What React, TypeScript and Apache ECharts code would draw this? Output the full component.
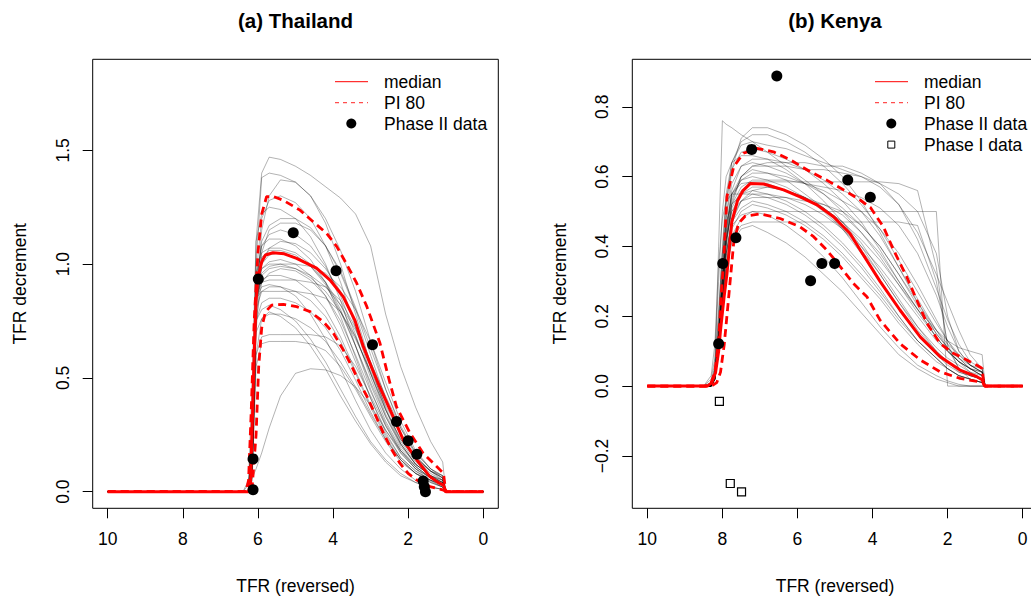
import React, { useEffect, useRef } from "react";
import * as echarts from "echarts";

// ---------- Axis ticks ----------
const xTicks = [0, 2, 4, 6, 8, 10];
const thaiYTicks = [0, 0.5, 1, 1.5];
const kenyaYTicks = [-0.2, 0, 0.2, 0.4, 0.6, 0.8];

// ---------- Thailand ----------
const thaiGrid = [10, 6.4, 6.25, 6.15, 6.05, 5.9, 5.7, 5.4, 5.0, 4.6, 4.2, 3.8, 3.4, 3.0, 2.6, 2.2, 1.8, 1.4, 1.08, 1.0, 0];
const thaiTrajectories = [
  [0, 0, 0, 0.3, 1.1, 1.4, 1.47, 1.46, 1.43, 1.39, 1.34, 1.29, 1.22, 1.08, 0.78, 0.55, 0.37, 0.22, 0.13, 0, 0],
  [0, 0, 0, 0.1, 1.0, 1.38, 1.4, 1.39, 1.36, 1.3, 1.2, 1.06, 0.88, 0.66, 0.45, 0.28, 0.16, 0.09, 0.05, 0, 0],
  [0, 0, 0, 0.15, 0.8, 1.15, 1.3, 1.37, 1.36, 1.3, 1.18, 1.0, 0.78, 0.56, 0.37, 0.22, 0.13, 0.07, 0.04, 0, 0],
  [0, 0, 0, 0.2, 0.95, 1.2, 1.28, 1.3, 1.27, 1.2, 1.08, 0.92, 0.72, 0.52, 0.34, 0.21, 0.12, 0.07, 0.05, 0, 0],
  [0, 0, 0.05, 0.5, 1.1, 1.22, 1.25, 1.24, 1.2, 1.12, 1.0, 0.84, 0.64, 0.45, 0.29, 0.17, 0.1, 0.06, 0.03, 0, 0],
  [0, 0, 0, 0.3, 0.9, 1.1, 1.17, 1.2, 1.2, 1.16, 1.08, 0.96, 0.8, 0.6, 0.41, 0.26, 0.15, 0.09, 0.06, 0, 0],
  [0, 0, 0, 0.2, 0.9, 1.08, 1.13, 1.15, 1.13, 1.08, 0.99, 0.86, 0.69, 0.5, 0.33, 0.2, 0.12, 0.07, 0.04, 0, 0],
  [0, 0, 0, 0.25, 0.95, 1.08, 1.11, 1.11, 1.08, 1.02, 0.92, 0.77, 0.59, 0.41, 0.26, 0.15, 0.09, 0.05, 0.03, 0, 0],
  [0, 0, 0, 0.15, 0.8, 1.0, 1.07, 1.1, 1.09, 1.05, 0.98, 0.88, 0.74, 0.57, 0.4, 0.25, 0.15, 0.09, 0.06, 0, 0],
  [0, 0, 0, 0.3, 0.95, 1.05, 1.07, 1.07, 1.05, 1.0, 0.92, 0.8, 0.64, 0.47, 0.31, 0.19, 0.11, 0.06, 0.03, 0, 0],
  [0, 0, 0, 0.2, 0.88, 1.0, 1.04, 1.05, 1.03, 0.99, 0.92, 0.82, 0.68, 0.52, 0.36, 0.23, 0.14, 0.08, 0.05, 0, 0],
  [0, 0, 0, 0.2, 0.85, 0.98, 1.01, 1.02, 1.0, 0.95, 0.86, 0.73, 0.57, 0.41, 0.27, 0.17, 0.1, 0.06, 0.04, 0, 0],
  [0, 0, 0, 0.3, 0.9, 0.98, 1.0, 1.0, 0.98, 0.94, 0.88, 0.79, 0.67, 0.53, 0.38, 0.25, 0.15, 0.09, 0.06, 0, 0],
  [0, 0, 0, 0.1, 0.75, 0.92, 0.96, 0.98, 0.97, 0.93, 0.86, 0.75, 0.6, 0.44, 0.3, 0.18, 0.11, 0.06, 0.03, 0, 0],
  [0, 0, 0, 0.25, 0.85, 0.93, 0.95, 0.95, 0.93, 0.88, 0.8, 0.68, 0.53, 0.38, 0.25, 0.15, 0.09, 0.05, 0.02, 0, 0],
  [0, 0, 0, 0.2, 0.85, 0.92, 0.93, 0.93, 0.93, 0.92, 0.9, 0.84, 0.72, 0.55, 0.36, 0.21, 0.12, 0.07, 0.05, 0, 0],
  [0, 0, 0, 0.2, 0.8, 0.88, 0.9, 0.9, 0.88, 0.84, 0.77, 0.66, 0.52, 0.37, 0.24, 0.14, 0.08, 0.04, 0.02, 0, 0],
  [0, 0, 0, 0.3, 0.85, 0.88, 0.88, 0.88, 0.88, 0.87, 0.85, 0.79, 0.68, 0.52, 0.36, 0.23, 0.14, 0.09, 0.07, 0, 0],
  [0, 0, 0, 0.15, 0.75, 0.83, 0.85, 0.85, 0.83, 0.79, 0.72, 0.62, 0.49, 0.35, 0.23, 0.14, 0.08, 0.05, 0.03, 0, 0],
  [0, 0, 0, 0.2, 0.75, 0.8, 0.82, 0.8, 0.75, 0.67, 0.57, 0.45, 0.33, 0.22, 0.14, 0.08, 0.04, 0.02, 0.01, 0, 0],
  [0, 0, 0, 0.15, 0.7, 0.76, 0.78, 0.78, 0.76, 0.72, 0.66, 0.57, 0.46, 0.34, 0.23, 0.14, 0.08, 0.05, 0.03, 0, 0],
  [0, 0, 0, 0.1, 0.6, 0.68, 0.69, 0.69, 0.69, 0.69, 0.68, 0.64, 0.55, 0.42, 0.29, 0.18, 0.11, 0.06, 0.04, 0, 0],
  [0, 0, 0, 0.1, 0.55, 0.65, 0.66, 0.66, 0.66, 0.65, 0.62, 0.55, 0.45, 0.33, 0.22, 0.13, 0.08, 0.04, 0.02, 0, 0],
  [0, 0, 0, 0.1, 0.6, 0.76, 0.79, 0.77, 0.72, 0.64, 0.54, 0.42, 0.31, 0.21, 0.13, 0.07, 0.04, 0.02, 0.01, 0, 0],
  [0, 0, 0.03, 0.06, 0.1, 0.17, 0.28, 0.42, 0.52, 0.54, 0.535, 0.51, 0.46, 0.38, 0.27, 0.18, 0.1, 0.045, 0.02, 0, 0],
  [0, 0, 0, 0.05, 0.7, 1.05, 1.15, 1.18, 1.18, 1.15, 1.08, 0.97, 0.81, 0.63, 0.45, 0.29, 0.17, 0.1, 0.06, 0, 0],
  [0, 0, 0, 0.2, 0.85, 0.96, 0.99, 1.0, 1.0, 0.99, 0.96, 0.9, 0.8, 0.66, 0.48, 0.31, 0.18, 0.1, 0.07, 0, 0],
  [0, 0, 0, 0.3, 0.85, 0.9, 0.91, 0.9, 0.86, 0.78, 0.67, 0.54, 0.4, 0.27, 0.17, 0.1, 0.05, 0.02, 0.01, 0, 0],
  [0, 0, 0, 0.25, 0.9, 1.03, 1.06, 1.06, 1.04, 0.99, 0.91, 0.79, 0.64, 0.48, 0.33, 0.21, 0.12, 0.07, 0.04, 0, 0],
  [0, 0, 0, 0.2, 0.85, 0.95, 0.98, 0.99, 0.98, 0.95, 0.9, 0.82, 0.71, 0.57, 0.42, 0.28, 0.17, 0.1, 0.07, 0, 0],
];
const thaiMedian = [
  [10, 0], [6.25, 0], [6.2, 0.03], [6.15, 0.3], [6.1, 0.6], [6.05, 0.84], [6.0, 0.94], [5.9, 1.01], [5.8, 1.04],
  [5.6, 1.05], [5.3, 1.045], [4.97, 1.025], [4.44, 0.982], [4.08, 0.93], [3.73, 0.857], [3.42, 0.754], [3.2, 0.64],
  [2.96, 0.54], [2.76, 0.461], [2.4, 0.33], [2.13, 0.227], [1.77, 0.139], [1.42, 0.066], [1.2, 0.04], [1.06, 0.029],
  [1.0, 0], [0, 0],
];
const thaiUpper = [
  [10, 0], [6.32, 0], [6.25, 0.05], [6.18, 0.35], [6.1, 0.75], [6.0, 1.05], [5.9, 1.22], [5.77, 1.296], [5.6, 1.298],
  [5.32, 1.28], [4.88, 1.237], [4.53, 1.186], [4.17, 1.135], [3.9, 1.077], [3.64, 1.0], [3.37, 0.916], [3.1, 0.813],
  [2.93, 0.735], [2.75, 0.652], [2.53, 0.505], [2.31, 0.373], [1.95, 0.257], [1.6, 0.169], [1.24, 0.11], [1.06, 0.081],
  [1.0, 0], [0, 0],
];
const thaiLower = [
  [10, 0], [6.25, 0], [6.15, 0.03], [6.05, 0.25], [5.98, 0.55], [5.9, 0.72], [5.8, 0.79], [5.63, 0.82], [5.32, 0.823],
  [4.97, 0.813], [4.61, 0.791], [4.26, 0.747], [3.99, 0.696], [3.73, 0.623], [3.5, 0.55], [3.3, 0.48], [3.1, 0.42],
  [2.88, 0.34], [2.66, 0.257], [2.44, 0.185], [2.22, 0.125], [2.0, 0.08], [1.77, 0.051], [1.42, 0.022], [1.06, 0.007],
  [1.0, 0], [0, 0],
];
const thaiPhase2 = [
  [6.13, 0.008], [6.13, 0.144], [5.99, 0.934], [5.06, 1.138], [3.92, 0.971], [2.95, 0.646], [2.31, 0.308],
  [2.0, 0.224], [1.77, 0.164], [1.6, 0.047], [1.57, 0.022], [1.54, 0.0],
];

// ---------- Kenya ----------
const kenyaGrid = [10, 8.5, 8.3, 8.2, 8.1, 8.0, 7.9, 7.75, 7.5, 7.2, 6.8, 6.3, 5.8, 5.3, 4.8, 4.3, 3.8, 3.3, 2.8, 2.3, 2.0, 1.7, 1.4, 1.08, 1.0, 0];
const kenyaTrajectories = [
  [0, 0, 0, 0.05, 0.4, 0.76, 0.75, 0.74, 0.72, 0.7, 0.67, 0.63, 0.59, 0.55, 0.5, 0.44, 0.37, 0.29, 0.21, 0.14, 0.1, 0.07, 0.05, 0.03, 0, 0],
  [0, 0, 0, 0.02, 0.12, 0.3, 0.48, 0.62, 0.71, 0.74, 0.74, 0.72, 0.69, 0.65, 0.6, 0.53, 0.44, 0.34, 0.24, 0.15, 0.11, 0.08, 0.05, 0.03, 0, 0],
  [0, 0, 0.01, 0.05, 0.2, 0.4, 0.55, 0.64, 0.7, 0.72, 0.72, 0.7, 0.67, 0.63, 0.58, 0.52, 0.45, 0.36, 0.27, 0.18, 0.13, 0.09, 0.06, 0.04, 0, 0],
  [0, 0, 0, 0.03, 0.15, 0.35, 0.52, 0.64, 0.69, 0.7, 0.69, 0.68, 0.66, 0.64, 0.62, 0.6, 0.57, 0.52, 0.44, 0.32, 0.24, 0.16, 0.09, 0.05, 0, 0],
  [0, 0, 0, 0.04, 0.18, 0.38, 0.53, 0.62, 0.67, 0.68, 0.67, 0.65, 0.62, 0.58, 0.53, 0.47, 0.39, 0.3, 0.22, 0.14, 0.1, 0.07, 0.04, 0.02, 0, 0],
  [0, 0, 0.02, 0.08, 0.3, 0.5, 0.6, 0.64, 0.66, 0.66, 0.65, 0.62, 0.58, 0.53, 0.47, 0.4, 0.32, 0.24, 0.16, 0.1, 0.07, 0.04, 0.03, 0.02, 0, 0],
  [0, 0, 0, 0.03, 0.15, 0.33, 0.48, 0.58, 0.63, 0.64, 0.63, 0.61, 0.58, 0.55, 0.51, 0.46, 0.4, 0.32, 0.24, 0.16, 0.12, 0.09, 0.06, 0.04, 0, 0],
  [0, 0, 0, 0.02, 0.1, 0.25, 0.42, 0.55, 0.6, 0.62, 0.61, 0.59, 0.55, 0.51, 0.45, 0.38, 0.3, 0.22, 0.15, 0.09, 0.06, 0.04, 0.03, 0.02, 0, 0],
  [0, 0, 0, 0.03, 0.15, 0.32, 0.46, 0.55, 0.58, 0.585, 0.585, 0.585, 0.585, 0.585, 0.585, 0.585, 0.585, 0.58, 0.56, 0.34, 0.11, 0.05, 0.03, 0.02, 0, 0],
  [0, 0, 0, 0.03, 0.14, 0.3, 0.45, 0.55, 0.59, 0.6, 0.59, 0.57, 0.54, 0.5, 0.45, 0.39, 0.32, 0.24, 0.17, 0.11, 0.08, 0.06, 0.04, 0.03, 0, 0],
  [0, 0, 0, 0.04, 0.16, 0.3, 0.42, 0.51, 0.56, 0.58, 0.58, 0.56, 0.54, 0.51, 0.47, 0.41, 0.33, 0.25, 0.17, 0.1, 0.07, 0.05, 0.03, 0.02, 0, 0],
  [0, 0, 0, 0.03, 0.12, 0.28, 0.41, 0.5, 0.55, 0.57, 0.57, 0.56, 0.54, 0.52, 0.49, 0.44, 0.38, 0.3, 0.22, 0.14, 0.1, 0.07, 0.05, 0.03, 0, 0],
  [0, 0, 0.01, 0.06, 0.22, 0.38, 0.47, 0.52, 0.55, 0.56, 0.55, 0.53, 0.5, 0.46, 0.41, 0.35, 0.28, 0.2, 0.13, 0.08, 0.05, 0.03, 0.02, 0.01, 0, 0],
  [0, 0, 0, 0.02, 0.1, 0.24, 0.38, 0.48, 0.53, 0.55, 0.55, 0.54, 0.52, 0.49, 0.45, 0.4, 0.34, 0.27, 0.2, 0.13, 0.1, 0.07, 0.05, 0.04, 0, 0],
  [0, 0, 0, 0.03, 0.15, 0.3, 0.42, 0.5, 0.53, 0.54, 0.54, 0.54, 0.53, 0.52, 0.5, 0.46, 0.4, 0.32, 0.23, 0.15, 0.11, 0.08, 0.06, 0.05, 0, 0],
  [0, 0, 0, 0.02, 0.1, 0.22, 0.35, 0.45, 0.5, 0.52, 0.51, 0.49, 0.46, 0.42, 0.37, 0.31, 0.25, 0.18, 0.12, 0.07, 0.05, 0.03, 0.02, 0.01, 0, 0],
  [0, 0, 0, 0.03, 0.12, 0.26, 0.38, 0.46, 0.49, 0.5, 0.5, 0.5, 0.5, 0.5, 0.5, 0.5, 0.5, 0.5, 0.5, 0.5, 0, 0, 0, 0, 0, 0],
  [0, 0, 0, 0.02, 0.1, 0.22, 0.34, 0.43, 0.48, 0.5, 0.49, 0.46, 0.42, 0.37, 0.31, 0.24, 0.17, 0.11, 0.06, 0.03, 0.015, 0.005, 0, 0, 0, 0],
  [0, 0, 0, 0.02, 0.1, 0.22, 0.33, 0.42, 0.46, 0.47, 0.47, 0.47, 0.47, 0.47, 0.47, 0.47, 0.47, 0.47, 0.46, 0.3, 0.12, 0.05, 0.02, 0.01, 0, 0],
  [0, 0, 0, 0.02, 0.1, 0.22, 0.33, 0.41, 0.45, 0.46, 0.44, 0.41, 0.37, 0.32, 0.27, 0.21, 0.15, 0.09, 0.05, 0.02, 0.01, 0, 0, 0, 0, 0],
  [0, 0, 0, 0.02, 0.1, 0.25, 0.4, 0.52, 0.6, 0.63, 0.64, 0.64, 0.64, 0.63, 0.63, 0.61, 0.58, 0.52, 0.42, 0.28, 0.19, 0.12, 0.07, 0.05, 0, 0],
  [0, 0, 0, 0.03, 0.14, 0.3, 0.44, 0.54, 0.59, 0.61, 0.61, 0.6, 0.58, 0.56, 0.53, 0.5, 0.45, 0.38, 0.29, 0.19, 0.13, 0.08, 0.05, 0.03, 0, 0],
  [0, 0, 0.03, 0.12, 0.35, 0.48, 0.53, 0.55, 0.55, 0.55, 0.54, 0.52, 0.49, 0.45, 0.4, 0.34, 0.27, 0.2, 0.13, 0.08, 0.05, 0.03, 0.02, 0.01, 0, 0],
  [0, 0, 0, 0.02, 0.12, 0.28, 0.44, 0.56, 0.63, 0.65, 0.65, 0.64, 0.62, 0.59, 0.55, 0.5, 0.43, 0.34, 0.25, 0.16, 0.11, 0.07, 0.05, 0.04, 0, 0],
  [0, 0, 0, 0.03, 0.13, 0.28, 0.42, 0.52, 0.57, 0.59, 0.59, 0.59, 0.58, 0.57, 0.56, 0.54, 0.51, 0.46, 0.38, 0.26, 0.17, 0.1, 0.06, 0.04, 0, 0],
  [0, 0, 0, 0.03, 0.12, 0.26, 0.38, 0.47, 0.51, 0.53, 0.52, 0.5, 0.47, 0.43, 0.38, 0.32, 0.26, 0.19, 0.13, 0.08, 0.05, 0.03, 0.02, 0.01, 0, 0],
  [0, 0, 0, 0.02, 0.1, 0.25, 0.4, 0.53, 0.6, 0.63, 0.63, 0.63, 0.62, 0.62, 0.61, 0.6, 0.58, 0.55, 0.5, 0.38, 0.2, 0.1, 0.06, 0.04, 0, 0],
  [0, 0, 0, 0.02, 0.1, 0.24, 0.37, 0.47, 0.53, 0.56, 0.57, 0.56, 0.54, 0.51, 0.47, 0.42, 0.36, 0.29, 0.22, 0.16, 0.13, 0.11, 0.1, 0.09, 0, 0],
];
const kenyaMedian = [
  [10, 0], [8.4, 0], [8.28, 0.01], [8.18, 0.04], [8.1, 0.1], [8.05, 0.16], [7.95, 0.26], [7.88, 0.32], [7.75, 0.47],
  [7.6, 0.53], [7.45, 0.56], [7.26, 0.58], [6.9, 0.579], [6.37, 0.562], [5.93, 0.542], [5.48, 0.519], [5.04, 0.485],
  [4.6, 0.437], [4.3, 0.385], [3.8, 0.3], [3.27, 0.218], [2.73, 0.141], [2.2, 0.084], [1.67, 0.046], [1.22, 0.027],
  [1.08, 0.018], [1.02, 0], [0, 0],
];
const kenyaUpper = [
  [10, 0], [8.45, 0], [8.3, 0.01], [8.2, 0.04], [8.1, 0.13], [8.02, 0.28], [7.97, 0.35], [7.88, 0.542], [7.7, 0.628],
  [7.44, 0.667], [7.08, 0.681], [6.64, 0.671], [6.19, 0.648], [5.66, 0.614], [5.22, 0.59], [4.77, 0.562], [4.33, 0.533],
  [4.06, 0.512], [3.71, 0.456], [3.44, 0.39], [3.09, 0.313], [2.82, 0.246], [2.55, 0.18], [2.2, 0.122], [1.85, 0.094],
  [1.49, 0.075], [1.14, 0.055], [1.08, 0.05], [1.03, 0], [0, 0],
];
const kenyaLower = [
  [10, 0], [8.3, 0], [8.15, 0.01], [8.05, 0.04], [7.95, 0.12], [7.84, 0.246], [7.7, 0.409], [7.57, 0.466], [7.39, 0.487],
  [6.99, 0.493], [6.46, 0.48], [5.93, 0.456], [5.57, 0.428], [5.22, 0.39], [4.86, 0.342], [4.51, 0.294], [4.15, 0.256],
  [3.8, 0.189], [3.27, 0.122], [2.73, 0.075], [2.2, 0.041], [1.67, 0.022], [1.14, 0.012], [1.06, 0.01], [1.0, 0], [0, 0],
];
const kenyaPhase2 = [
  [8.1, 0.121], [7.99, 0.351], [7.64, 0.425], [7.22, 0.678], [6.55, 0.888], [5.65, 0.302], [5.35, 0.351],
  [5.01, 0.351], [4.66, 0.59], [4.06, 0.541],
];
const kenyaPhase1 = [[8.08, -0.044], [7.79, -0.279], [7.49, -0.303]];

// ---------- Texts ----------
const panelTitles = ["(a) Thailand", "(b) Kenya"];
const xTitle = "TFR (reversed)";
const yTitle = "TFR decrement";
const legendLabels = ["median", "PI 80", "Phase II data", "Phase I data"];

const FONT = "'Liberation Sans', Arial, Helvetica, sans-serif";
const RED = "#ff0000";
const FS = 17.5;

function fmt(v: number) {
  const s = Math.abs(v).toFixed(1);
  return v < -1e-9 ? "\u2212" + s : s;
}

function xAxisFor(gridIndex: number) {
  return {
    type: "value",
    gridIndex,
    min: -0.4,
    max: 10.4,
    inverse: true,
    position: "bottom",
    axisLine: { show: false, onZero: false },
    splitLine: { show: false },
    axisTick: { show: true, inside: false, length: 10, customValues: xTicks, lineStyle: { color: "#000", width: 1 } },
    axisLabel: { show: true, customValues: xTicks, margin: 22, fontSize: FS, color: "#000", fontFamily: FONT, formatter: (v: number) => String(v) },
  };
}

function yAxisFor(gridIndex: number, min: number, max: number, ticks: number[]) {
  return {
    type: "value",
    gridIndex,
    min,
    max,
    position: "left",
    axisLine: { show: false, onZero: false },
    splitLine: { show: false },
    axisTick: { show: true, inside: false, length: 10, customValues: ticks, lineStyle: { color: "#000", width: 1 } },
    axisLabel: { show: true, customValues: ticks, rotate: 90, margin: 21, fontSize: FS, color: "#000", fontFamily: FONT, formatter: fmt },
  };
}

function panelSeries(idx: number, grid: number[], traj: number[][], median: number[][], upper: number[][], lower: number[][], phase2: number[][], phase1?: number[][]) {
  const s: any[] = traj.map((vals) => ({
    type: "line",
    xAxisIndex: idx,
    yAxisIndex: idx,
    data: grid.map((t, i) => [t, vals[i]]),
    showSymbol: false,
    symbol: "none",
    silent: true,
    lineStyle: { color: "rgba(0,0,0,0.3)", width: 1 },
    z: 1,
  }));
  [upper, lower].forEach((d) =>
    s.push({
      type: "line", xAxisIndex: idx, yAxisIndex: idx, data: d, showSymbol: false, symbol: "none", silent: true,
      lineStyle: { color: RED, width: 2.8, type: [8, 5] }, z: 3,
    })
  );
  s.push({
    type: "line", xAxisIndex: idx, yAxisIndex: idx, data: median, showSymbol: false, symbol: "none", silent: true,
    lineStyle: { color: RED, width: 3 }, z: 4,
  });
  s.push({
    type: "scatter", xAxisIndex: idx, yAxisIndex: idx, data: phase2, symbol: "circle", symbolSize: 11,
    itemStyle: { color: "#000", opacity: 1 }, silent: true, z: 5,
  });
  if (phase1) {
    s.push({
      type: "scatter", xAxisIndex: idx, yAxisIndex: idx, data: phase1, symbol: "rect", symbolSize: 8,
      itemStyle: { color: "#fff", borderColor: "#000", borderWidth: 1.2, opacity: 1 }, silent: true, z: 5,
    });
  }
  return s;
}

function legend(lineX0: number, textX: number, n: number) {
  const ys = [81.7, 102.6, 123.5, 144.6];
  const cx = lineX0 + 16.3;
  const els: any[] = [];
  els.push({ type: "line", shape: { x1: lineX0, y1: ys[0], x2: lineX0 + 33, y2: ys[0] }, style: { stroke: RED, lineWidth: 1 } });
  els.push({ type: "line", shape: { x1: lineX0, y1: ys[1], x2: lineX0 + 33, y2: ys[1] }, style: { stroke: "#ff4d4d", lineWidth: 1.2, lineDash: [4, 4] } });
  els.push({ type: "circle", shape: { cx, cy: ys[2], r: 5 }, style: { fill: "#000" } });
  if (n > 3) {
    els.push({ type: "rect", shape: { x: cx - 3.5, y: ys[3] - 3.5, width: 7, height: 7 }, style: { fill: "#fff", stroke: "#000", lineWidth: 1 } });
  }
  for (let i = 0; i < n; i++) {
    els.push({
      type: "text", x: textX, y: ys[i],
      style: { text: legendLabels[i], fill: "#000", fontSize: FS, fontFamily: FONT, align: "left", verticalAlign: "middle" },
    });
  }
  return els;
}

function texts() {
  const els: any[] = [];
  const centers = [295.5, 835];
  const yTitleX = [19.5, 559.5];
  centers.forEach((cx, i) => {
    els.push({ type: "text", x: cx, y: 20, style: { text: panelTitles[i], fill: "#000", fontSize: 20.5, fontWeight: "bold", fontFamily: FONT, align: "center", verticalAlign: "middle" } });
    els.push({ type: "text", x: cx, y: 586, style: { text: xTitle, fill: "#000", fontSize: FS, fontFamily: FONT, align: "center", verticalAlign: "middle" } });
    els.push({ type: "text", x: yTitleX[i], y: 283.8, rotation: Math.PI / 2, style: { text: yTitle, fill: "#000", fontSize: FS, fontFamily: FONT, align: "center", verticalAlign: "middle" } });
  });
  return els;
}

export default function App() {
  const ref = useRef<HTMLDivElement>(null);
  useEffect(() => {
    if (!ref.current) return;
    const chart = echarts.init(ref.current, null, { renderer: "svg" });
    const option: any = {
      animation: false,
      backgroundColor: "#fff",
      grid: [
        { left: 92.7, top: 59.3, width: 405.6, height: 449, show: true, borderColor: "#000", borderWidth: 1, backgroundColor: "transparent", outerBoundsMode: "none" },
        { left: 632.3, top: 59.3, width: 405.4, height: 449, show: true, borderColor: "#000", borderWidth: 1, backgroundColor: "transparent", outerBoundsMode: "none" },
      ],
      xAxis: [xAxisFor(0), xAxisFor(1)],
      yAxis: [yAxisFor(0, -0.0732, 1.9, thaiYTicks), yAxisFor(1, -0.35, 0.936, kenyaYTicks)],
      series: [
        ...panelSeries(0, thaiGrid, thaiTrajectories, thaiMedian, thaiUpper, thaiLower, thaiPhase2),
        ...panelSeries(1, kenyaGrid, kenyaTrajectories, kenyaMedian, kenyaUpper, kenyaLower, kenyaPhase2, kenyaPhase1),
      ],
      graphic: [...texts(), ...legend(335, 384, 3), ...legend(875, 924, 4)],
    };
    chart.setOption(option);
    return () => chart.dispose();
  }, []);
  return (
    <div style={{ position: "fixed", left: 0, top: 0, width: 1031, height: 598, overflow: "hidden", background: "#fff" }}>
      <div ref={ref} style={{ width: 1060, height: 598 }} />
    </div>
  );
}
